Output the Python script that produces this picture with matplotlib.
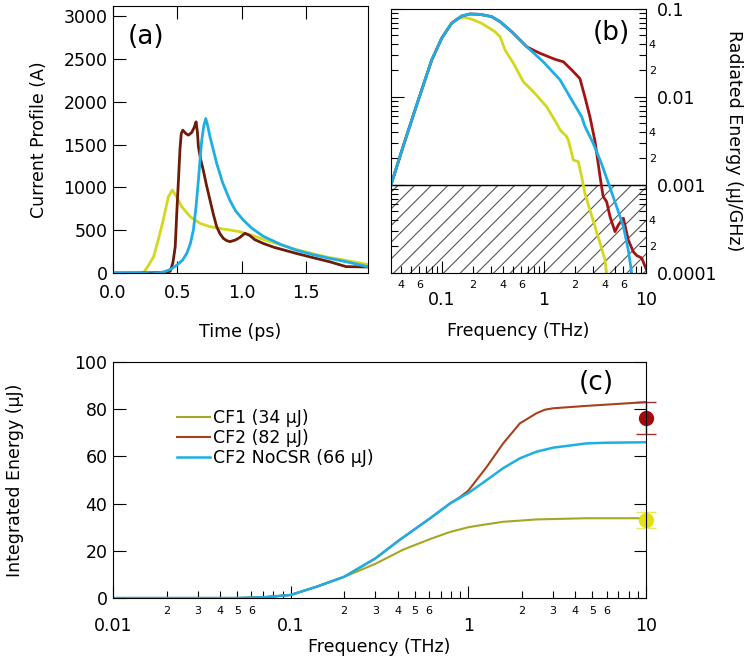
import numpy as np
import matplotlib
matplotlib.use("Agg")
import matplotlib.pyplot as plt
from matplotlib.ticker import FixedLocator, FuncFormatter, LogLocator

plt.rcParams['font.family'] = ['DejaVu Sans']
plt.rcParams['hatch.linewidth'] = 0.8

# ---- panel (a): current profiles ----
t_cf1 = [0, 0.1, 0.2, 0.24, 0.28, 0.315, 0.35, 0.39, 0.43, 0.46, 0.49, 0.534, 0.6, 0.676,
         0.753, 0.85, 0.907, 0.985, 1.08, 1.165, 1.3, 1.42, 1.55, 1.68, 1.76, 1.85, 1.975]
i_cf1 = [0, 0, 5, 10, 100, 190, 380, 619, 891, 969, 900, 774, 657, 580,
         541, 515, 502, 482, 440, 393, 330, 275, 225, 180, 160, 135, 100]

t_cf2 = [0, 0.2, 0.4, 0.444, 0.465, 0.483, 0.495, 0.508, 0.52, 0.53, 0.542, 0.565, 0.585,
         0.61, 0.63, 0.645, 0.655, 0.663, 0.68, 0.701, 0.725, 0.753, 0.78, 0.805, 0.83,
         0.856, 0.88, 0.907, 0.95, 0.985, 1.023, 1.06, 1.1, 1.165, 1.25, 1.42, 1.55, 1.68,
         1.81, 1.975]
i_cf2 = [0, 0, 5, 20, 120, 307, 700, 1086, 1450, 1630, 1669, 1630, 1611,
         1640, 1700, 1766, 1650, 1475, 1330, 1200, 1030, 852, 680, 541, 460,
         405, 380, 366, 385, 415, 463, 440, 390, 346, 300, 230, 180, 132,
         74, 70]

t_nocsr = [0, 0.2, 0.3, 0.35, 0.4, 0.45, 0.496, 0.54, 0.573, 0.6, 0.624, 0.645, 0.663, 0.68,
           0.689, 0.705, 0.72, 0.735, 0.753, 0.78, 0.805, 0.85, 0.907, 0.95, 1.01, 1.08,
           1.165, 1.3, 1.42, 1.55, 1.68, 1.83, 1.975]
i_nocsr = [0, 0, -10, 0, 15, 45, 93, 150, 230, 340, 502, 780, 1086, 1400,
           1553, 1720, 1805, 1720, 1591, 1430, 1280, 1060, 850, 730, 620, 520,
           430, 335, 268, 215, 171, 125, 74]

# ---- panel (b): radiated spectra ----
f_nocsr = [0.0316, 0.0427, 0.0586, 0.0793, 0.0993, 0.124, 0.156, 0.188, 0.224, 0.254,
           0.307, 0.371, 0.482, 0.676, 0.984, 1.44, 1.87, 2.34, 2.51, 3.02, 3.67, 4.28,
           5.15, 6.0, 6.71, 7.24]
s_nocsr = [0.001, 0.00302, 0.00925, 0.0263, 0.0465, 0.0687, 0.0832, 0.0877, 0.0871, 0.0855,
           0.0818, 0.0718, 0.0552, 0.0373, 0.0251, 0.0156, 0.00925, 0.00597, 0.00468, 0.00302,
           0.00174, 0.00105, 0.000568, 0.000339, 0.000182, 0.0001]

f_cf2 = [0.0316, 0.0427, 0.0586, 0.0793, 0.0993, 0.124, 0.156, 0.188, 0.224, 0.254,
         0.307, 0.371, 0.482, 0.676, 0.794, 0.912, 1.28, 1.55, 1.87, 2.25, 2.52, 2.82,
         3.16, 3.54, 3.80, 4.11, 4.44, 4.97, 5.36, 6.0, 6.71, 7.52, 8.11, 9.08, 10.0]
s_cf2 = [0.001, 0.00302, 0.00925, 0.0263, 0.0465, 0.0687, 0.0832, 0.0877, 0.0871, 0.0855,
         0.0818, 0.0718, 0.0552, 0.0373, 0.0339, 0.0314, 0.0268, 0.0251, 0.0203, 0.0162,
         0.01, 0.00597, 0.00316, 0.00126, 0.000741, 0.000646, 0.000437, 0.000295,
         0.000351, 0.000419, 0.000237, 0.000174, 0.000158, 0.000148, 0.000112]

f_cf1 = [0.0316, 0.0427, 0.0586, 0.0793, 0.0993, 0.124, 0.141, 0.168, 0.2, 0.245, 0.331,
         0.371, 0.415, 0.501, 0.627, 0.785, 1.06, 1.33, 1.44, 1.67, 1.73, 1.94, 2.17, 2.34,
         2.52, 2.82, 3.16, 3.54, 3.96, 4.11]
s_cf1 = [0.001, 0.00302, 0.00925, 0.0263, 0.0465, 0.0687, 0.0776, 0.0804, 0.0759, 0.0687,
         0.0552, 0.0484, 0.0342, 0.0242, 0.0149, 0.0115, 0.00776, 0.00501, 0.00422, 0.00355,
         0.00324, 0.00192, 0.00184, 0.00124, 0.000804, 0.00052, 0.000339, 0.000219,
         0.000141, 0.0001]

# ---- panel (c): integrated energy ----
fi_cf1 = [0.01, 0.05, 0.07, 0.1, 0.14, 0.2, 0.25, 0.3, 0.43, 0.61, 0.79, 1.0, 1.16, 1.57,
          2.42, 4.6, 10]
ei_cf1 = [0, 0, 0.3, 1.3, 4.8, 9.0, 12, 14.5, 20.5, 25, 28, 30.0, 30.8, 32.3, 33.3, 33.8, 33.8]

fi_cf2 = [0.01, 0.05, 0.07, 0.1, 0.14, 0.2, 0.3, 0.41, 0.61, 0.79, 0.9, 1.0, 1.27, 1.57,
          1.95, 2.42, 2.7, 3.0, 4.6, 10]
ei_cf2 = [0, 0, 0.3, 1.3, 4.8, 9.0, 16.8, 24.6, 33.8, 40.1, 42.8, 45.5, 55.6, 65.5,
          74, 78.3, 79.8, 80.4, 81.4, 83]

fi_nocsr = [0.01, 0.05, 0.07, 0.1, 0.14, 0.2, 0.3, 0.41, 0.61, 0.79, 1.0, 1.16, 1.27, 1.57,
            1.95, 2.42, 3.0, 4.6, 6.0, 10]
ei_nocsr = [0, 0, 0.3, 1.3, 4.8, 9.0, 16.8, 24.6, 33.8, 40.1, 44.5, 47.9, 50, 55,
            59.2, 62, 63.7, 65.5, 65.8, 66]

meas_e = [76.3, 33.0]
meas_err = [6.8, 3.3]

labels_c = ['CF1 (34 \u03bcJ)', 'CF2 (82 \u03bcJ)', 'CF2 NoCSR (66 \u03bcJ)']

yellow = '#d4d81c'
brown = '#6e1c0a'
red = '#a51414'
cyan = '#1eaee6'
olive = '#a6a626'
rust = '#a8401c'


def minor_labels(digits):
    def fmt(v, pos):
        d = int(round(v / 10 ** np.floor(np.log10(v) + 1e-9)))
        return str(d) if d in digits else ''
    return FuncFormatter(fmt)


fig = plt.figure(figsize=(7.5, 6.6), dpi=100)

# (a)
ax_a = fig.add_axes([0.1507, 0.5864, 0.34, 0.4045])
ax_a.plot(t_cf1, i_cf1, color=yellow, lw=2)
ax_a.plot(t_cf2, i_cf2, color=brown, lw=2)
ax_a.plot(t_nocsr, i_nocsr, color=cyan, lw=2)
ax_a.set_xlim(0, 1.98)
ax_a.set_ylim(0, 3120)
ax_a.set_xticks([0, 0.5, 1.0, 1.5])
ax_a.set_xticklabels(['0.0', '0.5', '1.0', '1.5'])
ax_a.set_yticks(range(0, 3001, 500))
ax_a.tick_params(direction='in', length=9, width=0.8, labelsize=12.5,
                 top=True, right=False, bottom=True, left=True)
ax_a.tick_params(axis='x', pad=8)
ax_a.tick_params(axis='y', pad=4)
ax_a.set_xlabel('Time (ps)', fontsize=12.5, labelpad=15)
ax_a.set_ylabel('Current Profile (A)', fontsize=12.5, labelpad=11)
ax_a.text(0.13, 0.885, '(a)', transform=ax_a.transAxes, fontsize=19,
          ha='center', va='center')

# (b)
ax_b = fig.add_axes([0.5213, 0.5864, 0.34, 0.4])
ax_b.set_xscale('log')
ax_b.set_yscale('log')
ax_b.axhspan(1e-4, 1e-3, facecolor='none', edgecolor='#555555', hatch='//', lw=0)
ax_b.axhline(1e-3, color='black', lw=1)
ax_b.plot(f_cf1, s_cf1, color=yellow, lw=2)
ax_b.plot(f_cf2, s_cf2, color=red, lw=2)
ax_b.plot(f_nocsr, s_nocsr, color=cyan, lw=2)
ax_b.set_xlim(0.0316, 10)
ax_b.set_ylim(1e-4, 0.1)
ax_b.xaxis.set_major_locator(FixedLocator([0.1, 1, 10]))
ax_b.xaxis.set_major_formatter(FuncFormatter(lambda v, p: '%g' % v))
ax_b.xaxis.set_minor_locator(LogLocator(base=10, subs=np.arange(2, 10)))
ax_b.xaxis.set_minor_formatter(minor_labels([2, 4, 6]))
ax_b.yaxis.set_major_locator(FixedLocator([1e-4, 1e-3, 1e-2, 1e-1]))
ax_b.yaxis.set_major_formatter(FuncFormatter(lambda v, p: '%g' % v if v >= 1e-3 else '0.0001'))
ax_b.yaxis.set_minor_locator(LogLocator(base=10, subs=np.arange(2, 10)))
ax_b.yaxis.set_minor_formatter(minor_labels([2, 4]))
ax_b.tick_params(which='both', direction='in', width=0.8, top=False, bottom=True,
                 left=True, right=True, labelleft=False, labelright=True)
ax_b.tick_params(which='major', length=9, labelsize=12.5)
ax_b.tick_params(which='minor', length=5, labelsize=8)
ax_b.tick_params(axis='x', which='major', pad=13)
ax_b.tick_params(axis='x', which='minor', pad=5)
ax_b.tick_params(axis='y', which='major', pad=8)
ax_b.tick_params(axis='y', which='minor', pad=2)
ax_b.set_xlabel('Frequency (THz)', fontsize=12.5, labelpad=9)
ax_b.yaxis.set_label_position('right')
ax_b.set_ylabel('Radiated Energy (\u03bcJ/GHz)', fontsize=12.5, rotation=270, labelpad=18)
ax_b.text(0.863, 0.909, '(b)', transform=ax_b.transAxes, fontsize=19,
          ha='center', va='center')

# (c)
ax_c = fig.add_axes([0.1507, 0.0939, 0.7106, 0.3576])
ax_c.set_xscale('log')
l1, = ax_c.plot(fi_cf1, ei_cf1, color=olive, lw=1.5)
l2, = ax_c.plot(fi_cf2, ei_cf2, color=rust, lw=1.5)
l3, = ax_c.plot(fi_nocsr, ei_nocsr, color=cyan, lw=1.8)
for e, err, c, ec in zip(meas_e, meas_err, ['#a00a0a', '#e2e212'], ['#a03030', '#e8e860']):
    cont = ax_c.errorbar([10], [e], yerr=[err], fmt='o', color=c, ecolor=ec,
                         markersize=10, capsize=7, elinewidth=1, capthick=1)
    for art in cont.get_children():
        art.set_clip_on(False)
ax_c.set_xlim(0.01, 10)
ax_c.set_ylim(0, 100)
ax_c.set_yticks(range(0, 101, 20))
ax_c.xaxis.set_major_locator(FixedLocator([0.01, 0.1, 1, 10]))
ax_c.xaxis.set_major_formatter(FuncFormatter(lambda v, p: '%g' % v))
ax_c.xaxis.set_minor_locator(LogLocator(base=10, subs=np.arange(2, 10)))
ax_c.xaxis.set_minor_formatter(minor_labels([2, 3, 4, 5, 6]))
ax_c.tick_params(which='both', direction='in', width=0.8, top=False, bottom=True,
                 left=True, right=True)
ax_c.tick_params(which='major', length=9, labelsize=12.5)
ax_c.tick_params(which='minor', length=5, labelsize=8)
ax_c.tick_params(axis='x', which='major', pad=14)
ax_c.tick_params(axis='x', which='minor', pad=6)
ax_c.tick_params(axis='y', pad=4)
ax_c.set_xlabel('Frequency (THz)', fontsize=12.5, labelpad=2)
ax_c.set_ylabel('Integrated Energy (\u03bcJ)', fontsize=12.5, labelpad=36)
ax_c.legend([l1, l2, l3], labels_c, loc='upper left', bbox_to_anchor=(0.12, 0.80),
            frameon=False, fontsize=12.5, handlelength=1.9, handletextpad=0.2,
            labelspacing=0.1, borderpad=0, borderaxespad=0)
ax_c.text(0.906, 0.911, '(c)', transform=ax_c.transAxes, fontsize=19,
          ha='center', va='center')

for ax in (ax_a, ax_b, ax_c):
    for s in ax.spines.values():
        s.set_linewidth(0.8)

fig.savefig('out.png', dpi=100)
